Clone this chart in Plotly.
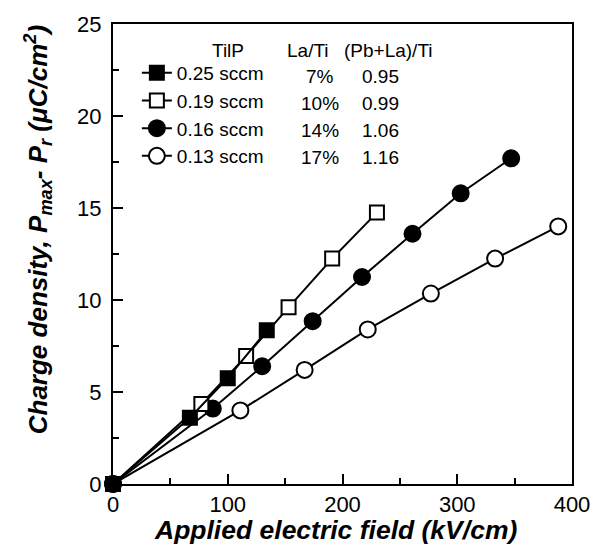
import plotly.graph_objects as go

# Data (Applied electric field kV/cm, charge density uC/cm^2)
sq_f_x = [0, 67, 100, 134]
sq_f_y = [0, 3.6, 5.75, 8.35]
sq_o_x = [0, 77, 116, 153, 191, 230]
sq_o_y = [0, 4.35, 6.95, 9.6, 12.25, 14.75]
ci_f_x = [0, 87, 130, 174, 217, 261, 303, 347]
ci_f_y = [0, 4.1, 6.4, 8.85, 11.25, 13.6, 15.8, 17.7]
ci_o_x = [0, 111, 167, 222, 277, 333, 388]
ci_o_y = [0, 4.0, 6.2, 8.4, 10.35, 12.25, 14.0]

names = ["0.25 sccm", "0.19 sccm", "0.16 sccm", "0.13 sccm"]
la_ti = ["7%", "10%", "14%", "17%"]
pbla_ti = ["0.95", "0.99", "1.06", "1.16"]
headers = ["TilP", "La/Ti", "(Pb+La)/Ti"]

FONT = "Arial, Liberation Sans, sans-serif"
fig = go.Figure()

series = [
    (sq_f_x, sq_f_y, names[0], "square", "black", 14, 1),
    (sq_o_x, sq_o_y, names[1], "square", "white", 14, 2),
    (ci_f_x, ci_f_y, names[2], "circle", "black", 16, 3),
    (ci_o_x, ci_o_y, names[3], "circle", "white", 16, 4),
]
for x, y, nm, sym, col, sz, rank in reversed(series):
    fig.add_trace(go.Scatter(
        x=x, y=y, name=nm, mode="lines+markers",
        line=dict(color="black", width=2),
        marker=dict(symbol=sym, size=sz, color=col, line=dict(color="black", width=2)),
        cliponaxis=False, legendrank=rank,
    ))

fig.update_layout(
    width=602, height=559,
    margin=dict(l=113, r=29, t=20, b=75),
    paper_bgcolor="white", plot_bgcolor="white",
    font=dict(family=FONT, color="black"),
    showlegend=True,
    legend=dict(x=0.052, y=0.935, xanchor="left", yanchor="top",
                font=dict(size=19, family=FONT), bgcolor="rgba(0,0,0,0)",
                itemwidth=30, tracegroupgap=0),
)
fig.update_xaxes(
    range=[0, 400], tickvals=[0, 100, 200, 300, 400],
    ticks="inside", ticklen=10, tickwidth=1.5, tickcolor="black",
    minor=dict(tickvals=[50, 150, 250, 350], ticks="inside", ticklen=6, tickwidth=1.5, tickcolor="black"),
    showline=True, linewidth=2, linecolor="black", mirror=True,
    showgrid=False, zeroline=False,
    tickfont=dict(size=22, family=FONT),
)
fig.update_yaxes(
    range=[0, 25], tickvals=[0, 5, 10, 15, 20, 25],
    ticks="inside", ticklen=10, tickwidth=1.5, tickcolor="black",
    minor=dict(tickvals=[2.5, 7.5, 12.5, 17.5, 22.5], ticks="inside", ticklen=6, tickwidth=1.5, tickcolor="black"),
    showline=True, linewidth=2, linecolor="black", mirror=True,
    showgrid=False, zeroline=False, ticklabelstandoff=5,
    tickfont=dict(size=22, family=FONT),
)

# axis titles
fig.add_annotation(x=0.485, y=-0.099, xref="paper", yref="paper",
                   text="<b><i>Applied electric field (kV/cm)</i></b>",
                   showarrow=False, font=dict(size=26.5, family=FONT), xanchor="center", yanchor="middle")
fig.add_annotation(x=-0.163, y=0.552, xref="paper", yref="paper", textangle=-90,
                   text="<b><i>Charge density, P<sub>max</sub>- P<sub>r</sub> (\u03bcC/cm<sup>2</sup>)</i></b>",
                   showarrow=False, font=dict(size=26, family=FONT), xanchor="center", yanchor="middle")

# table header and extra columns next to the legend
hx = [0.25, 0.425, 0.60]
for i, h in enumerate(headers):
    fig.add_annotation(x=hx[i], y=0.942, xref="paper", yref="paper", text=h,
                       showarrow=False, font=dict(size=19, family=FONT), xanchor="center", yanchor="middle")
row_y = [0.886, 0.828, 0.769, 0.709]
for i in range(4):
    fig.add_annotation(x=0.45, y=row_y[i], xref="paper", yref="paper", text=la_ti[i],
                       showarrow=False, font=dict(size=19, family=FONT), xanchor="center", yanchor="middle")
    fig.add_annotation(x=0.583, y=row_y[i], xref="paper", yref="paper", text=pbla_ti[i],
                       showarrow=False, font=dict(size=19, family=FONT), xanchor="center", yanchor="middle")

fig.write_html("out.html")
